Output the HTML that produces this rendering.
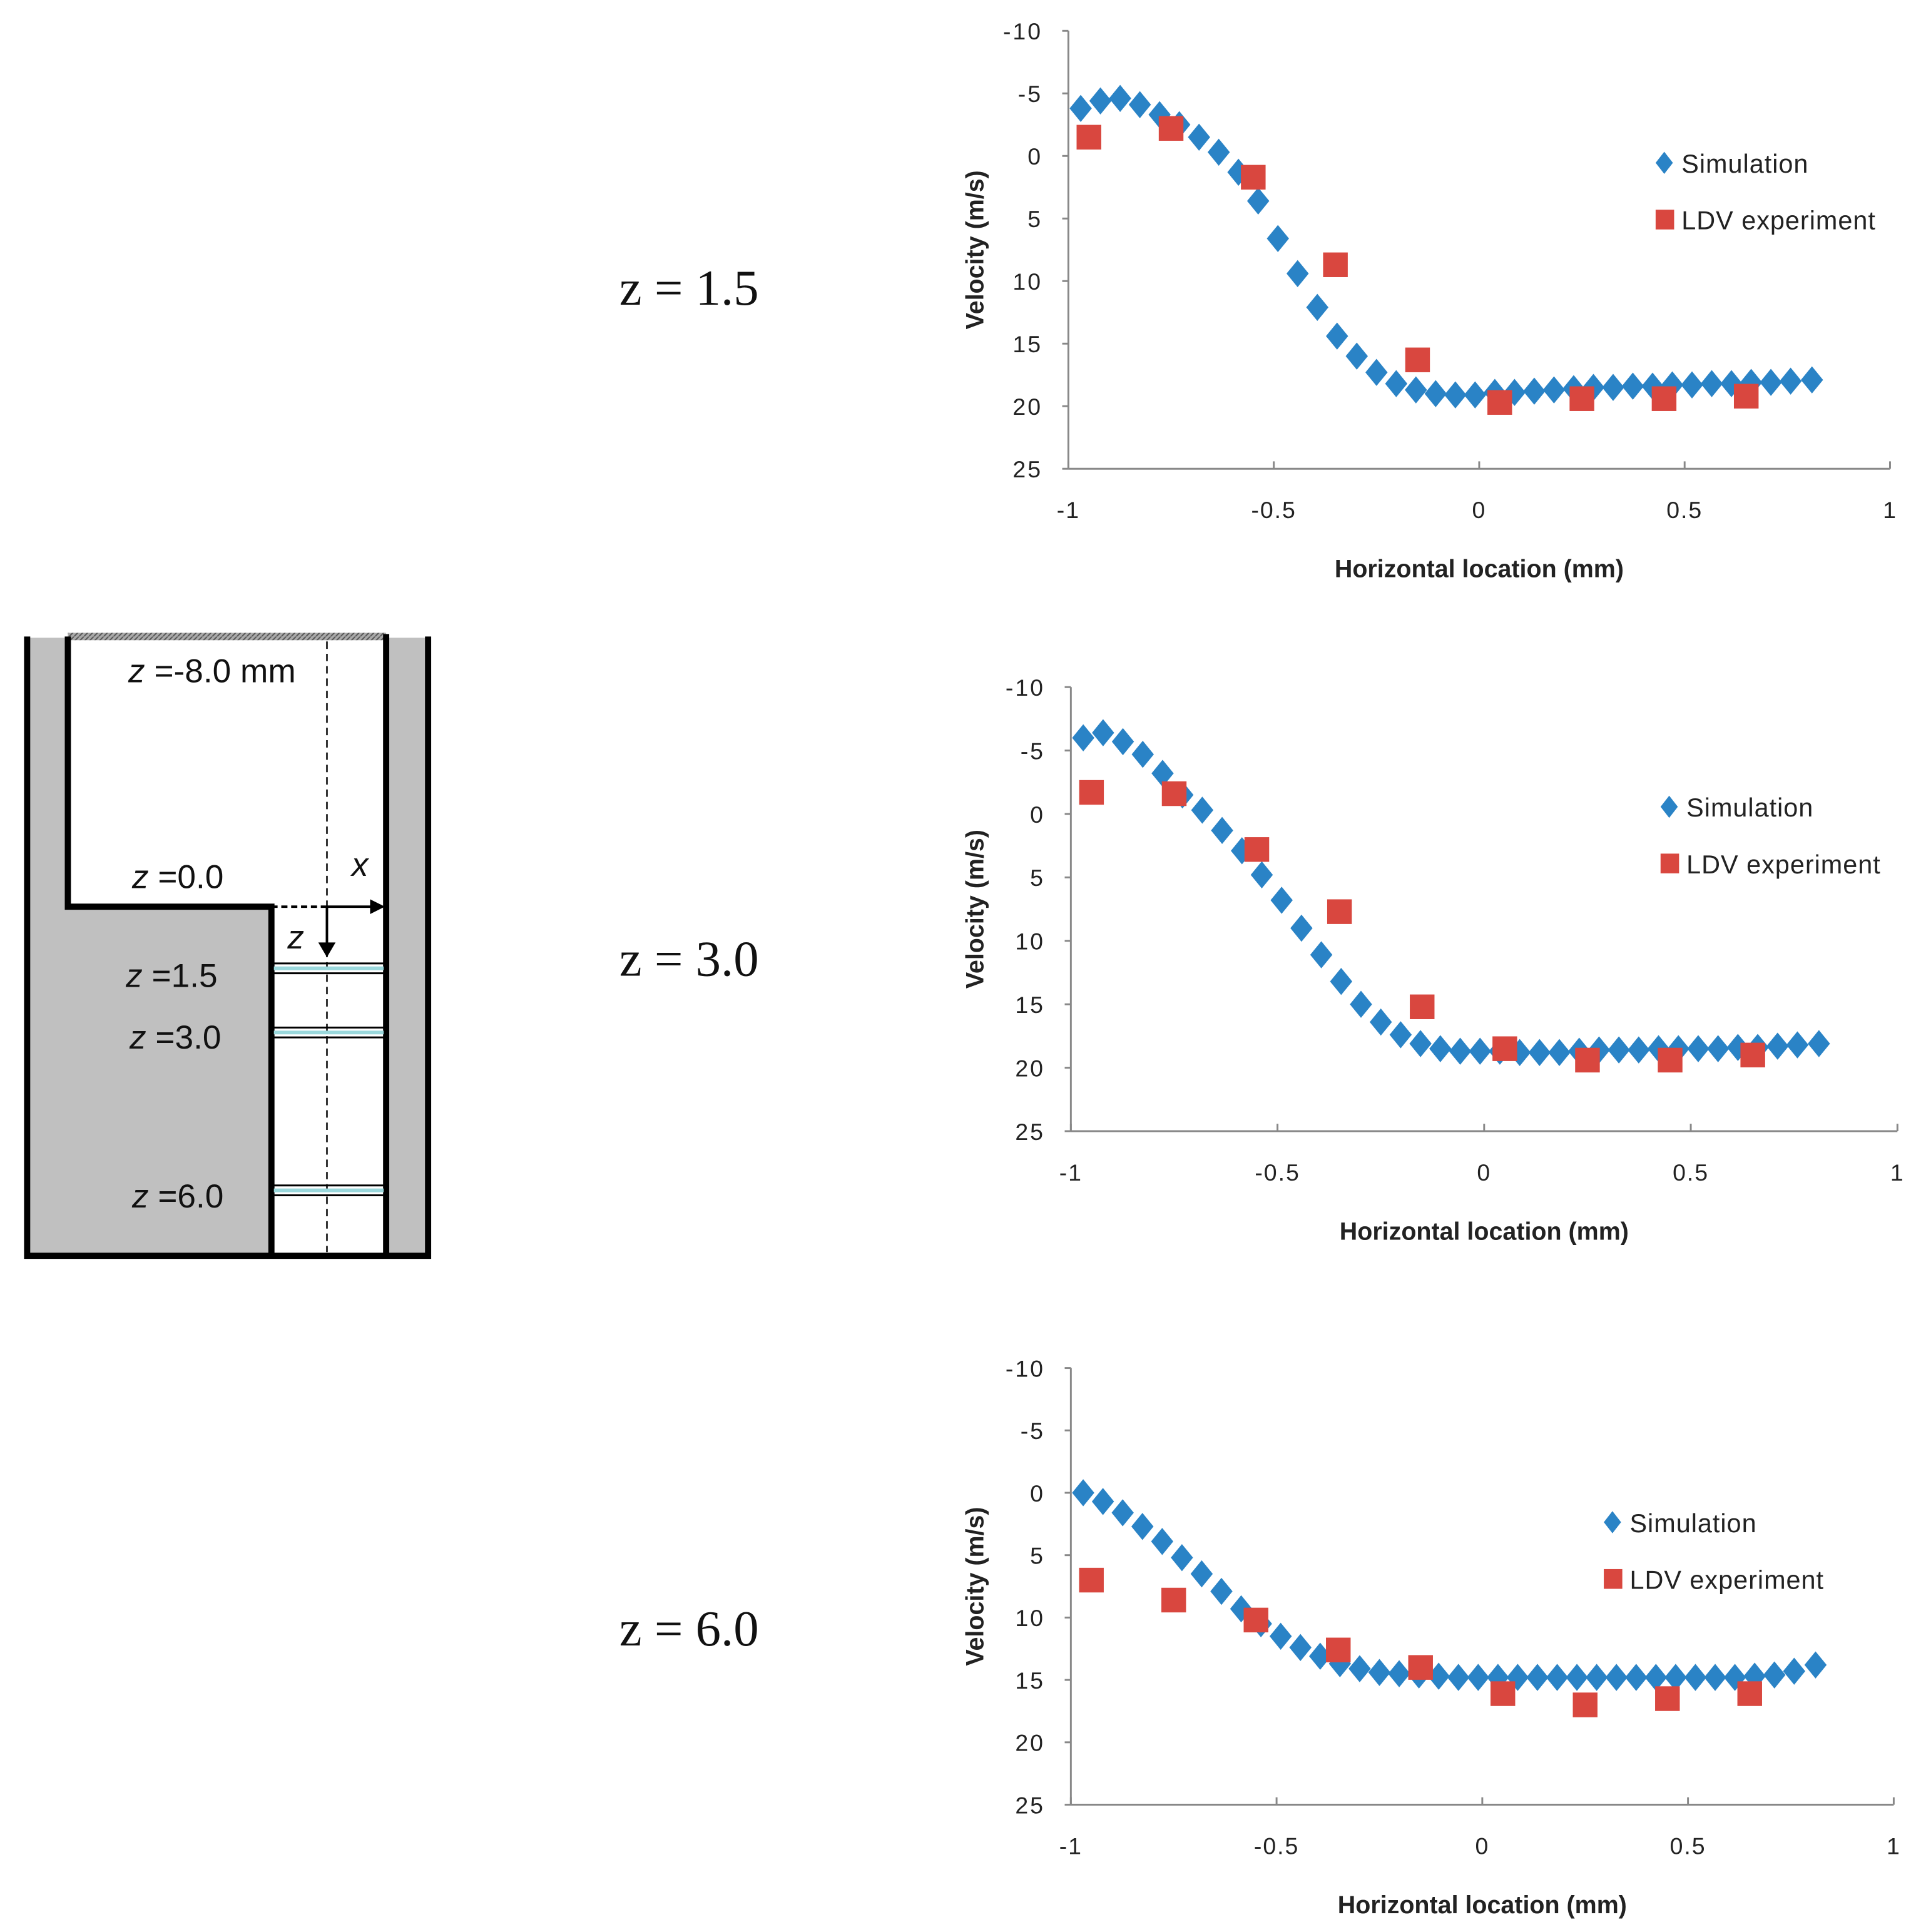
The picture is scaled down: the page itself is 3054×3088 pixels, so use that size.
<!DOCTYPE html>
<html><head><meta charset="utf-8"><style>
html,body{margin:0;padding:0;background:#fff;}
svg{display:block;}
</style></head><body>
<svg id="root" width="3054" height="3088" viewBox="0 0 1549 1566.2" preserveAspectRatio="none" xmlns="http://www.w3.org/2000/svg">
<defs>
<pattern id="hatch" width="4" height="4" patternUnits="userSpaceOnUse"><rect width="4" height="4" fill="#aaa"/><path d="M0,4 L4,0" stroke="#555" stroke-width="1"/></pattern>
</defs>
<g id="diagram">
  <rect x="22" y="517" width="324" height="502" fill="#c0c0c0"/>
  <rect x="55" y="517" width="258" height="218" fill="#fff"/>
  <rect x="220" y="735" width="93" height="283" fill="#fff"/>
  <rect x="55" y="513" width="258" height="6" fill="url(#hatch)"/>
  <g stroke="#000" fill="none" stroke-width="5">
    <polyline points="22,516 22,1018 347,1018 347,516"/>
    <polyline points="55,516 55,735 220,735 220,1018"/>
    <line x1="313" y1="514" x2="313" y2="1018"/>
  </g>
  <line x1="265" y1="520" x2="265" y2="1015" stroke="#333" stroke-width="1.5" stroke-dasharray="6,4"/>
  <line x1="220" y1="735" x2="265" y2="735" stroke="#000" stroke-width="2" stroke-dasharray="5,3"/>
  <line x1="265" y1="735" x2="302" y2="735" stroke="#000" stroke-width="2"/>
  <polygon points="300,729 312,735 300,741" fill="#000"/>
  <line x1="265" y1="735" x2="265" y2="766" stroke="#000" stroke-width="2"/>
  <polygon points="258,764 272,764 265,776" fill="#000"/>
  <g stroke-width="3">
    <line x1="222" y1="785" x2="311" y2="785" stroke="#9ad8dc"/>
    <line x1="222" y1="837" x2="311" y2="837" stroke="#9ad8dc"/>
    <line x1="222" y1="965" x2="311" y2="965" stroke="#9ad8dc"/>
  </g>
  <g stroke="#000" stroke-width="1.5">
    <line x1="222" y1="781" x2="311" y2="781"/><line x1="222" y1="789" x2="311" y2="789"/>
    <line x1="222" y1="833" x2="311" y2="833"/><line x1="222" y1="841" x2="311" y2="841"/>
    <line x1="222" y1="961" x2="311" y2="961"/><line x1="222" y1="969" x2="311" y2="969"/>
  </g>
  <g font-family="Liberation Sans, sans-serif" font-size="27" fill="#111">
    <text x="104" y="553"><tspan font-style="italic">z</tspan> =-8.0 mm</text>
    <text x="107" y="720"><tspan font-style="italic">z</tspan> =0.0</text>
    <text x="285" y="710" font-style="italic">x</text>
    <text x="233" y="769" font-style="italic">z</text>
    <text x="102" y="800"><tspan font-style="italic">z</tspan> =1.5</text>
    <text x="105" y="850"><tspan font-style="italic">z</tspan> =3.0</text>
    <text x="107" y="979"><tspan font-style="italic">z</tspan> =6.0</text>
  </g>
</g>
<g font-family="Liberation Serif, serif" font-size="41" fill="#111">
  <text x="502" y="247">z = 1.5</text>
  <text x="502" y="791">z = 3.0</text>
  <text x="502" y="1334">z = 6.0</text>
</g>
<g id="charts"></g>
</svg>
<script>
const simX1 = [-0.97,-0.922,-0.874,-0.826,-0.778,-0.73,-0.682,-0.634,-0.586,-0.538,-0.49,-0.442,-0.394,-0.346,-0.298,-0.25,-0.202,-0.154,-0.106,-0.058,-0.01,0.038,0.086,0.134,0.182,0.23,0.278,0.326,0.374,0.422,0.47,0.518,0.566,0.614,0.662,0.71,0.758,0.81];
const simV1 = [-3.8,-4.4,-4.6,-4.1,-3.3,-2.5,-1.5,-0.3,1.3,3.6,6.6,9.4,12.1,14.4,16.0,17.3,18.2,18.7,19.0,19.1,19.1,18.9,18.9,18.8,18.7,18.6,18.5,18.5,18.4,18.4,18.3,18.3,18.2,18.2,18.1,18.1,18.0,17.9];
const simV2 = [-6.0,-6.4,-5.7,-4.7,-3.2,-1.5,-0.3,1.3,2.9,4.8,6.8,9.0,11.1,13.2,15.0,16.4,17.4,18.1,18.5,18.7,18.7,18.7,18.8,18.8,18.8,18.7,18.6,18.6,18.6,18.5,18.5,18.5,18.5,18.4,18.4,18.3,18.2,18.1];
const simV3 = [0.0,0.7,1.6,2.7,3.9,5.2,6.5,7.9,9.3,10.5,11.5,12.4,13.1,13.7,14.1,14.4,14.5,14.6,14.7,14.8,14.8,14.8,14.8,14.8,14.8,14.8,14.8,14.8,14.8,14.8,14.8,14.8,14.8,14.8,14.7,14.6,14.3,13.8];
const ldvX = [-0.95,-0.75,-0.55,-0.35,-0.15,0.05,0.25,0.45,0.65];
const ldvV1 = [-1.5,-2.2,1.7,8.7,16.3,19.7,19.4,19.4,19.2];
const ldvV2 = [-1.7,-1.6,2.8,7.7,15.2,18.5,19.4,19.4,19.0];
const ldvV3 = [7.0,8.6,10.2,12.6,14.0,16.1,17.0,16.5,16.1];
const yTicks = [-10,-5,0,5,10,15,20,25];
const xTicks = [-1,-0.5,0,0.5,1];
const xTickLabels = ["-1","-0.5","0","0.5","1"];

const NS = "http://www.w3.org/2000/svg";
const host = document.getElementById('charts');
function mk(tag, attrs, parent){const e=document.createElementNS(NS,tag);for(const k in attrs)e.setAttribute(k,attrs[k]);parent.appendChild(e);return e;}

function chart(idx, L, R, T, B, legX, legY, simV, ldvV){
  const g = mk('g',{},host);
  
  
  const xs = v => L + (v+1)/2*(R-L);
  const ys = v => T + (v+10)/35*(B-T);
  const ax = mk('line',{x1:L,y1:T,x2:L,y2:B,stroke:'#888','stroke-width':1.5},g);
  
  
  const bx = mk('line',{x1:L,y1:B,x2:R,y2:B,stroke:'#888','stroke-width':1.5},g);
  
  
  yTicks.forEach(t=>{
    mk('line',{x1:L-5,y1:ys(t),x2:L,y2:ys(t),stroke:'#888','stroke-width':1.5},g);
    const tx = mk('text',{x:L-21,y:ys(t)+7,'text-anchor':'end','font-family':'Liberation Sans, sans-serif','font-size':19,fill:'#222','letter-spacing':'1.5'},g);
    tx.textContent = String(t);
    
    
  });
  xTicks.forEach((t,i)=>{
    mk('line',{x1:xs(t),y1:B-6,x2:xs(t),y2:B,stroke:'#888','stroke-width':1.5},g);
    const tx = mk('text',{x:xs(t),y:B+40,'text-anchor':'middle','font-family':'Liberation Sans, sans-serif','font-size':19,fill:'#222','letter-spacing':'1'},g);
    tx.textContent = xTickLabels[i];
    
    
  });
  const xt = mk('text',{x:(L+R)/2,y:B+88,'text-anchor':'middle','font-family':'Liberation Sans, sans-serif','font-size':20,'font-weight':'bold',fill:'#222'},g);
  xt.textContent = 'Horizontal location (mm)';
  
  
  const cy = (T+B)/2;
  const yt = mk('text',{x:0,y:0,transform:`translate(797,${cy}) rotate(-90)`,'text-anchor':'middle','font-family':'Liberation Sans, sans-serif','font-size':20,'font-weight':'bold',fill:'#222'},g);
  yt.textContent = 'Velocity (m/s)';
  
  
  simV.forEach((v,i)=>{
    const x=xs(simX1[i]), y=ys(v);
    const p = mk('polygon',{points:`${x},${y-11} ${x+9},${y} ${x},${y+11} ${x-9},${y}`,fill:'#2a83c6'},g);
    
    
  });
  ldvV.forEach((v,i)=>{
    const x=xs(ldvX[i]), y=ys(v);
    const r = mk('rect',{x:x-10,y:y-10,width:20,height:20,fill:'#d9473f'},g);
    
    
  });
  const lg = mk('g',{},g);
  
  
  mk('polygon',{points:`${legX},${legY-9} ${legX+7},${legY} ${legX},${legY+9} ${legX-7},${legY}`,fill:'#2a83c6'},lg);
  const t1 = mk('text',{x:legX+14,y:legY+8,'font-family':'Liberation Sans, sans-serif','font-size':21,fill:'#222','letter-spacing':'0.5'},lg);
  t1.textContent='Simulation';
  
  
  mk('rect',{x:legX-7,y:legY+38,width:15,height:16,fill:'#d9473f'},lg);
  const t2 = mk('text',{x:legX+14,y:legY+54,'font-family':'Liberation Sans, sans-serif','font-size':21,fill:'#222','letter-spacing':'0.5'},lg);
  t2.textContent='LDV experiment';
  
  
}
chart(1, 866, 1532, 25, 380, 1349, 132, simV1, ldvV1);
chart(2, 868, 1538, 557, 917, 1353, 654, simV2, ldvV2);
chart(3, 868, 1535, 1109, 1463, 1307, 1234, simV3, ldvV3);
</script>
</body></html>
